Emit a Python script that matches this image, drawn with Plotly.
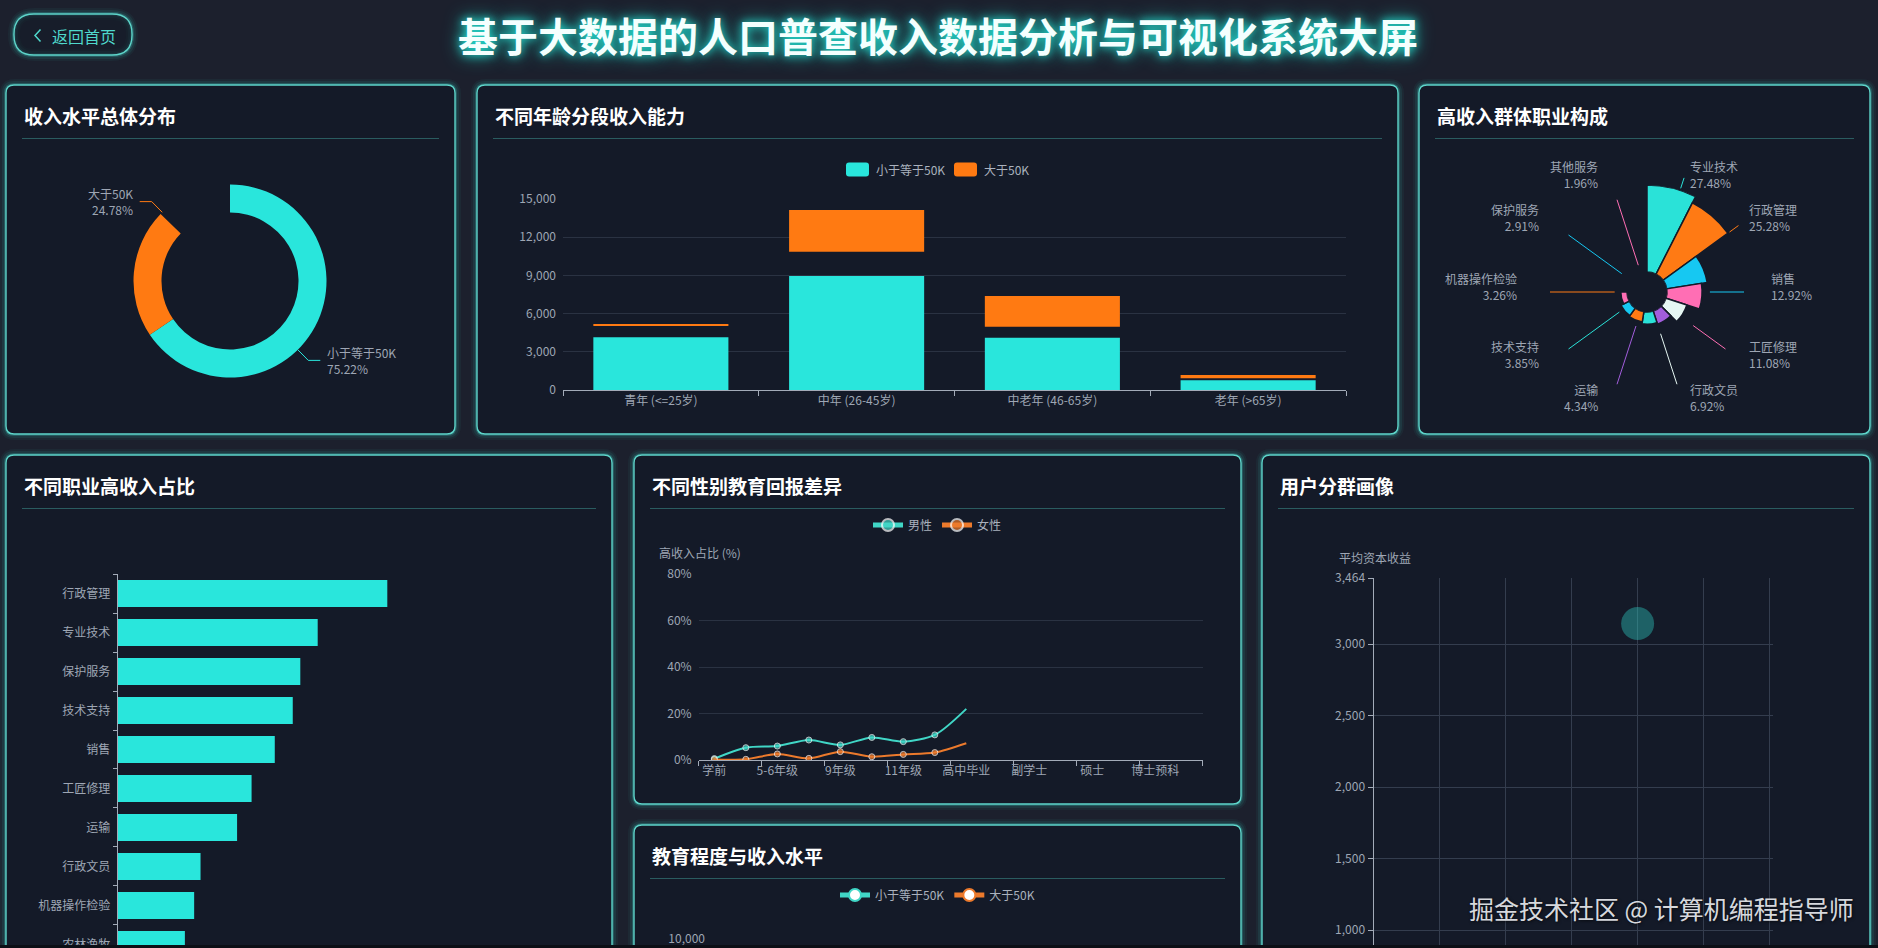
import math
import plotly.graph_objects as go

W, H = 1878, 948

# ---------------- data ----------------
income_levels = ['小于等于50K', '大于50K']
income_share = [75.22, 24.78]

age_groups = ['青年 (<=25岁)', '中年 (26-45岁)', '中老年 (46-65岁)', '老年 (>65岁)']
age_le50k = [5026, 10862, 4971, 919]
age_gt50k = [134, 3274, 2411, 259]

rose_jobs = ['专业技术', '行政管理', '销售', '工匠修理', '行政文员', '运输',
             '技术支持', '机器操作检验', '保护服务', '其他服务']
rose_share = [27.48, 25.28, 12.92, 11.08, 6.92, 4.34, 3.85, 3.26, 2.91, 1.96]

occ_names = ['行政管理', '专业技术', '保护服务', '技术支持', '销售', '工匠修理',
             '运输', '行政文员', '机器操作检验', '农林渔牧']
occ_high_ratio = [46.5, 34.5, 31.5, 30.2, 27.1, 23.1, 20.6, 14.3, 13.2, 11.6]

edu_levels = ['学前', '1-4年级', '5-6年级', '7-8年级', '9年级', '10年级', '11年级', '12年级',
              '高中毕业', '大学肄业', '副学士', '学士', '硕士', '专业学位', '博士预科', '博士']
male_ratio = [0.6, 5.3, 6.0, 8.6, 6.5, 9.7, 7.9, 10.8, 22.0]
female_ratio = [0.2, 0.3, 2.6, 0.7, 3.6, 1.4, 2.4, 3.2, 7.2]

seg_age = [40]
seg_gain = [3145]

# ---------------- style ----------------
PAGE_BG = '#1c202d'
PANEL_BG = '#141a28'
TEAL = '#29e6dc'
ORANGE = '#ff7a12'
GRID = '#2a3242'
AXIS = '#a3abb8'
TXT = '#9ea6b4'
FONT = 'Noto Sans CJK SC'
ROSE_COLORS = ['#2ae2d8', '#ff7a14', '#16c8f2', '#ff6eb4', '#e6f7f3', '#a25ddc',
               '#2ae2d8', '#ff7a14', '#16c8f2', '#ff6eb4']
MALE = '#40d6c6'
FEMALE = '#ec7a2c'

DONUT_SWEEP = 314.0     # animation state of the donut (degrees drawn)
BAR_GROW = 0.825        # animation state of the teal stacked bars
ROSE_SWEEP = 0.75       # animation state of the rose


def X(x):
    return x / W


def Y(y):
    return 1 - y / H


def pt(x, y):
    return f"{X(x):.6f},{Y(y):.6f}"


def rrect(x0, y0, x1, y1, r):
    return (f"M{pt(x0 + r, y0)} L{pt(x1 - r, y0)} Q{pt(x1, y0)} {pt(x1, y0 + r)} "
            f"L{pt(x1, y1 - r)} Q{pt(x1, y1)} {pt(x1 - r, y1)} L{pt(x0 + r, y1)} "
            f"Q{pt(x0, y1)} {pt(x0, y1 - r)} L{pt(x0, y0 + r)} Q{pt(x0, y0)} {pt(x0 + r, y0)} Z")


shapes = []
annotations = []


def glow_box(x0, y0, x1, y1, r, fill):
    p = rrect(x0, y0, x1, y1, r)
    for w, c in [(12, 'rgba(60,215,205,0.05)'), (8, 'rgba(60,215,205,0.09)'),
                 (4, 'rgba(70,220,210,0.22)')]:
        shapes.append(dict(type='path', path=p, xref='paper', yref='paper',
                           line=dict(color=c, width=w), layer='below'))
    shapes.append(dict(type='path', path=p, xref='paper', yref='paper',
                       fillcolor=fill, line=dict(width=0), layer='below'))
    shapes.append(dict(type='path', path=p, xref='paper', yref='paper',
                       line=dict(color='#5ed5ca', width=1.4), layer='below'))


panels = [
    (6, 85, 455, 434, '收入水平总体分布'),
    (477, 85, 1398, 434, '不同年龄分段收入能力'),
    (1419, 85, 1870, 434, '高收入群体职业构成'),
    (6, 455, 612, 1010, '不同职业高收入占比'),
    (634, 455, 1241, 804, '不同性别教育回报差异'),
    (634, 825, 1241, 1010, '教育程度与收入水平'),
    (1262, 455, 1870, 1010, '用户分群画像'),
]
for x0, y0, x1, y1, t in panels:
    glow_box(x0, y0, x1, y1, 8, PANEL_BG)
    annotations.append(dict(text=t, x=X(x0 + 16), y=Y(y0 + 30), xref='paper', yref='paper',
                            xanchor='left', yanchor='middle', showarrow=False,
                            font=dict(family=FONT, size=19, color='#ffffff', weight='bold')))
    shapes.append(dict(type='line', xref='paper', yref='paper', x0=X(x0 + 16), x1=X(x1 - 16),
                       y0=Y(y0 + 53.5), y1=Y(y0 + 53.5),
                       line=dict(color='rgba(80,200,190,0.38)', width=1), layer='below'))

# header button
glow_box(14, 14, 132, 55, 20, 'rgba(20,28,40,0.6)')
shapes.append(dict(type='path', xref='paper', yref='paper',
                   path=f"M{pt(40.5, 29.5)} L{pt(35, 35.5)} L{pt(40.5, 41.5)}",
                   line=dict(color='#4fd8cc', width=1.5), layer='above'))
annotations.append(dict(text='返回首页', x=X(50), y=Y(35.5), xref='paper', yref='paper',
                        xanchor='left', yanchor='middle', showarrow=False,
                        font=dict(family=FONT, size=16, color='#4fd8cc')))
# header title
annotations.append(dict(text='基于大数据的人口普查收入数据分析与可视化系统大屏', x=X(938), y=Y(35),
                        xref='paper', yref='paper', xanchor='center', yanchor='middle',
                        showarrow=False,
                        font=dict(family=FONT, size=40, color='#f4fffe', weight='bold',
                                  shadow='0 0 8px #25d8cb, 0 0 18px #1fbfb4')))

fig = go.Figure()

# ---------------- donut ----------------
DC = (230, 281)
DR = 96.5
gap = sum(income_share) * (360.0 / DONUT_SWEEP - 1)
fig.add_trace(go.Pie(values=income_share + [gap], labels=income_levels + ['_'],
                     marker=dict(colors=[TEAL, ORANGE, 'rgba(0,0,0,0)'], line=dict(width=0)),
                     hole=0.71, sort=False, direction='clockwise', rotation=0,
                     textinfo='none', hoverinfo='skip', showlegend=False,
                     domain=dict(x=[X(DC[0] - DR), X(DC[0] + DR)],
                                 y=[Y(DC[1] + DR), Y(DC[1] - DR)])))
tot = sum(income_share)
cum = 0
for name, v, col in zip(income_levels, income_share, [TEAL, ORANGE]):
    mid = (cum + v / 2) / tot * 360
    cum += v
    s, c = math.sin(math.radians(mid)), math.cos(math.radians(mid))
    p0 = (DC[0] + DR * s, DC[1] - DR * c)
    p1 = (DC[0] + (DR + 15) * s, DC[1] - (DR + 15) * c)
    side = 1 if s >= 0 else -1
    p2 = (p1[0] + 12 * side, p1[1])
    shapes.append(dict(type='path', xref='paper', yref='paper',
                       path=f"M{pt(*p0)} L{pt(*p1)} L{pt(*p2)}",
                       line=dict(color=col, width=1), layer='above'))
    annotations.append(dict(text=f"{name}<br>{v:.2f}%", x=X(p2[0] + 5 * side), y=Y(p2[1]),
                            xref='paper', yref='paper',
                            xanchor='left' if side > 0 else 'right', yanchor='middle',
                            align='left' if side > 0 else 'right', showarrow=False,
                            font=dict(family=FONT, size=12, color=TXT)))

# ---------------- stacked bars ----------------
fig.add_trace(go.Bar(x=age_groups, y=[v * BAR_GROW for v in age_le50k], name=income_levels[0],
                     marker=dict(color=TEAL, line=dict(width=0)), xaxis='x', yaxis='y',
                     showlegend=False, hoverinfo='skip'))
fig.add_trace(go.Bar(x=age_groups, y=age_gt50k, base=age_le50k, name=income_levels[1],
                     marker=dict(color=ORANGE, line=dict(width=0)), xaxis='x', yaxis='y',
                     showlegend=False, hoverinfo='skip'))
# echarts-style legend (rounded rectangles)
lx = 846
for name, col, tw in zip(income_levels, [TEAL, ORANGE], [70, 46]):
    shapes.append(dict(type='path', xref='paper', yref='paper',
                       path=rrect(lx, 162.5, lx + 23, 176.5, 3), fillcolor=col,
                       line=dict(width=0), layer='above'))
    annotations.append(dict(text=name, x=X(lx + 28), y=Y(169.5), xref='paper', yref='paper',
                            xanchor='left', yanchor='middle', showarrow=False,
                            font=dict(family=FONT, size=12, color='#aab2be')))
    lx += 28 + tw + 10

# ---------------- rose ----------------
RC = (1647, 292)
RR, RR0 = 107, 20
n = len(rose_jobs)
step = 360.0 / n * ROSE_SWEEP
fig.add_trace(go.Barpolar(r=rose_share, theta=[step * (i + 0.5) for i in range(n)],
                          width=[step] * n,
                          marker=dict(color=ROSE_COLORS, line=dict(color=PANEL_BG, width=1.5)),
                          subplot='polar', showlegend=False, hoverinfo='skip'))
mx = max(rose_share)
LC, LR = (1644, 286), 117
for i, (name, v) in enumerate(zip(rose_jobs, rose_share)):
    ang = (i + 0.5) * 360.0 / n
    s, c = math.sin(math.radians(ang)), math.cos(math.radians(ang))
    outer = RR0 + (RR - RR0) * v / mx
    r_a = outer + 2
    r_b = max(outer + 13, 97)
    shapes.append(dict(type='line', xref='paper', yref='paper',
                       x0=X(RC[0] + r_a * s), y0=Y(RC[1] - r_a * c),
                       x1=X(RC[0] + r_b * s), y1=Y(RC[1] - r_b * c),
                       line=dict(color=ROSE_COLORS[i], width=1), layer='above'))
    side = 1 if s >= 0 else -1
    annotations.append(dict(text=f"{name}<br>{v:.2f}%", x=X(LC[0] + LR * s + 8 * side),
                            y=Y(LC[1] - LR * c), xref='paper', yref='paper',
                            xanchor='left' if side > 0 else 'right', yanchor='middle',
                            align='left' if side > 0 else 'right', showarrow=False,
                            font=dict(family=FONT, size=12, color=TXT)))

# ---------------- horizontal bars ----------------
fig.add_trace(go.Bar(x=occ_high_ratio, y=occ_names, orientation='h',
                     marker=dict(color=TEAL, line=dict(width=0)), xaxis='x3', yaxis='y3',
                     showlegend=False, hoverinfo='skip'))

# ---------------- gender / education lines ----------------
msz = [6] * (len(male_ratio) - 1) + [0]
fig.add_trace(go.Scatter(x=edu_levels[:len(male_ratio)], y=male_ratio, name='男性',
                         mode='lines+markers',
                         line=dict(color=MALE, width=2, shape='spline', smoothing=0.8),
                         marker=dict(size=msz, color=MALE), xaxis='x4', yaxis='y4',
                         legend='legend2', showlegend=True, hoverinfo='skip'))
fig.add_trace(go.Scatter(x=edu_levels[:len(female_ratio)], y=female_ratio, name='女性',
                         mode='lines+markers',
                         line=dict(color=FEMALE, width=2, shape='spline', smoothing=0.8),
                         marker=dict(size=msz, color=FEMALE), xaxis='x4', yaxis='y4',
                         legend='legend2', showlegend=True, hoverinfo='skip'))

# ---------------- education vs income (mostly below the fold) ----------------
fig.add_trace(go.Scatter(x=[None], y=[None], name='小于等于50K', mode='lines+markers',
                         line=dict(color=MALE, width=2),
                         marker=dict(size=8, color='#ffffff', line=dict(color=MALE, width=2)),
                         xaxis='x5', yaxis='y5', legend='legend3', showlegend=True))
fig.add_trace(go.Scatter(x=[None], y=[None], name='大于50K', mode='lines+markers',
                         line=dict(color=FEMALE, width=2),
                         marker=dict(size=8, color='#ffffff', line=dict(color=FEMALE, width=2)),
                         xaxis='x5', yaxis='y5', legend='legend3', showlegend=True))

# ---------------- segment bubble ----------------
fig.add_trace(go.Scatter(x=seg_age, y=seg_gain, mode='markers',
                         marker=dict(size=33, color='rgba(45,205,195,0.40)', line=dict(width=0)),
                         xaxis='x6', yaxis='y6', showlegend=False, hoverinfo='skip'))

# axis names / watermark
annotations.append(dict(text='高收入占比 (%)', x=X(657), y=Y(552), xref='paper', yref='paper',
                        xanchor='left', yanchor='middle', showarrow=False,
                        font=dict(family=FONT, size=12, color=TXT)))
annotations.append(dict(text='平均资本收益', x=X(1337), y=Y(557), xref='paper', yref='paper',
                        xanchor='left', yanchor='middle', showarrow=False,
                        font=dict(family=FONT, size=12, color=TXT)))
annotations.append(dict(text='掘金技术社区 @ 计算机编程指导师', x=X(1467), y=Y(908),
                        xref='paper', yref='paper', xanchor='left', yanchor='middle',
                        showarrow=False,
                        font=dict(family=FONT, size=25, color='rgba(236,238,242,0.92)',
                                  shadow='1px 1px 3px rgba(0,0,0,0.7)')))

# bottom dark band of the screenshot
shapes.append(dict(type='rect', xref='paper', yref='paper', x0=0, x1=1, y0=0, y1=Y(945),
                   fillcolor='#0c0f16', line=dict(width=0), layer='above'))

tickfont = dict(family=FONT, size=12, color=TXT)
legfont = dict(family=FONT, size=12, color='#aab2be')

fig.update_layout(
    width=W, height=H, margin=dict(l=0, r=0, t=0, b=0, pad=0, autoexpand=False),
    autosize=False,
    paper_bgcolor=PAGE_BG, plot_bgcolor='rgba(0,0,0,0)',
    font=dict(family=FONT, color=TXT),
    showlegend=True,
    barmode='overlay', bargap=0.31,
    shapes=shapes, annotations=annotations,
    xaxis=dict(domain=[X(563), X(1346)], anchor='y', type='category', automargin=False,
               showline=True, linecolor=AXIS, ticks='outside', tickson='boundaries',
               ticklen=5, tickcolor=AXIS, tickfont=tickfont, showgrid=False, tickangle=0),
    yaxis=dict(domain=[Y(390), Y(199)], anchor='x', range=[0, 15000], automargin=False,
               tickvals=[0, 3000, 6000, 9000, 12000, 15000], tickformat=',',
               gridcolor=GRID, zeroline=False, showline=False, tickfont=tickfont,
               ticklabelstandoff=6),
    polar=dict(domain=dict(x=[X(RC[0] - RR), X(RC[0] + RR)], y=[Y(RC[1] + RR), Y(RC[1] - RR)]),
               hole=RR0 / RR, bgcolor='rgba(0,0,0,0)',
               radialaxis=dict(visible=False, range=[0, mx]),
               angularaxis=dict(visible=False, rotation=90, direction='clockwise')),
    xaxis3=dict(domain=[X(117.6), X(117.6 + 80 * 5.8)], anchor='y3', range=[0, 80],
                visible=False, automargin=False),
    yaxis3=dict(domain=[0, Y(574)], anchor='x3', type='category', automargin=False,
                categoryorder='array', categoryarray=occ_names, range=[9.09, -0.5],
                showline=True, linecolor=AXIS, ticks='outside', tickson='boundaries',
                ticklen=4, tickcolor=AXIS, tickfont=tickfont, showgrid=False,
                ticklabelstandoff=4),
    xaxis4=dict(domain=[X(698.6), X(1202.5)], anchor='y4', type='category', automargin=False,
                categoryorder='array', categoryarray=edu_levels, range=[-0.5, 15.5],
                tickmode='linear', tick0=0, dtick=2, tickangle=0,
                showline=True, linecolor=AXIS, ticks='outside', tickson='boundaries',
                ticklen=5, tickcolor=AXIS, tickfont=tickfont, showgrid=False),
    yaxis4=dict(domain=[Y(760), Y(574)], anchor='x4', range=[0, 80], automargin=False,
                tickvals=[0, 20, 40, 60, 80], ticktext=['0%', '20%', '40%', '60%', '80%'],
                gridcolor=GRID, zeroline=False, showline=False, tickfont=tickfont,
                ticklabelstandoff=6),
    xaxis5=dict(domain=[X(712), X(1202)], anchor='y5', visible=False, range=[0, 1],
                automargin=False),
    yaxis5=dict(domain=[0, Y(939)], anchor='x5', range=[0, 10000], tickvals=[10000],
                ticktext=['10,000'], showgrid=False, zeroline=False, showline=False,
                tickfont=tickfont, ticklabelstandoff=6, automargin=False),
    xaxis6=dict(domain=[X(1373.5), X(1773)], anchor='y6', range=[0, 60.5], automargin=False,
                tickvals=[0, 10, 20, 30, 40, 50, 60, 60.5], showticklabels=False,
                gridcolor='#343d4e', zeroline=False, showline=False),
    yaxis6=dict(domain=[0, Y(578)], anchor='x6', range=[874, 3464], automargin=False,
                tickvals=[1000, 1500, 2000, 2500, 3000, 3464], tickformat=',',
                gridcolor='#343d4e', zeroline=False, showline=True, linecolor=AXIS,
                ticks='outside', ticklen=5, tickcolor=AXIS, tickfont=tickfont),
    legend2=dict(x=X(937.5), y=Y(525), xanchor='center', yanchor='middle', orientation='h',
                 font=legfont, bgcolor='rgba(0,0,0,0)', itemsizing='constant', itemwidth=30,
                 visible=True),
    legend3=dict(x=X(937.5), y=Y(895), xanchor='center', yanchor='middle', orientation='h',
                 font=legfont, bgcolor='rgba(0,0,0,0)', itemsizing='constant', itemwidth=30,
                 visible=True),
)

fig.write_html("out.html", config={'displayModeBar': False},
               post_script="var gd=document.getElementById('{plot_id}');"
                           "gd.style.position='fixed';gd.style.left='0px';gd.style.top='0px';"
                           "document.documentElement.style.overflow='hidden';"
                           "document.body.style.margin='0';"
                           "document.body.style.overflow='hidden';"
                           "document.body.style.background='" + PAGE_BG + "';")
